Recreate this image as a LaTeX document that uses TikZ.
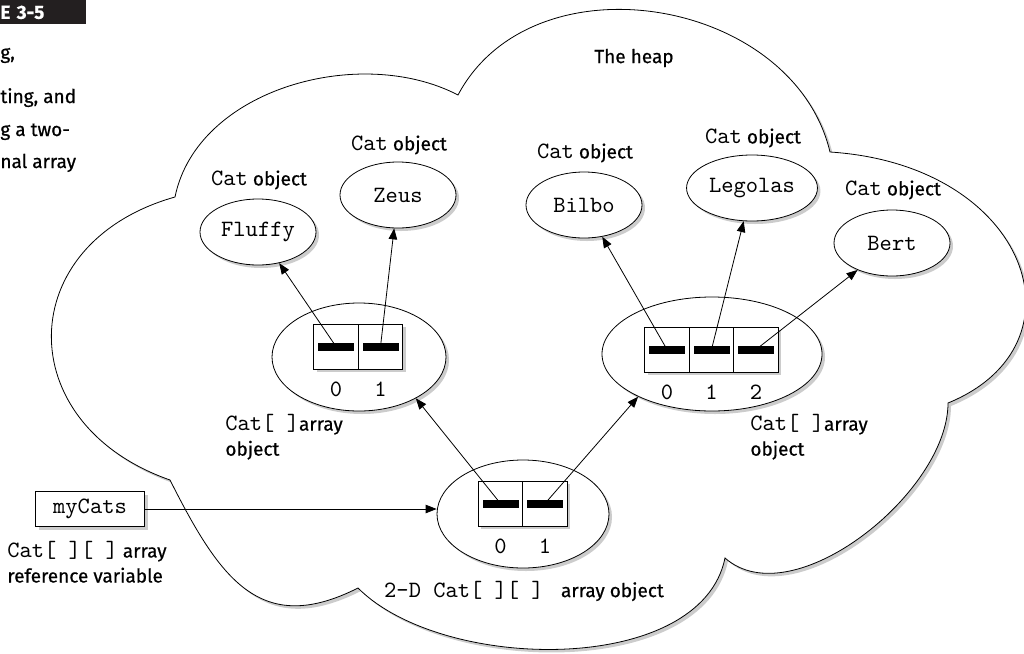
\documentclass[tikz,border=0pt]{standalone}
\usepackage{fontspec}
\setmainfont{Fira Sans}[FakeBold=0.6]
\setmonofont{lmmono10-regular.otf}[Scale=1.23]
\usetikzlibrary{positioning,shapes.geometric,shadows,arrows.meta}
\newcommand{\java}[1]{{\ttfamily #1}}
\newcommand{\figsize}{\fontsize{19}{25}\selectfont}
\definecolor{shadowgray}{gray}{0.8}
\definecolor{figbar}{HTML}{231F20}
\tikzset{
  shadowed/.style={drop shadow={shadow xshift=3pt, shadow yshift=-3pt, fill=shadowgray, opacity=1}},
  lbl/.style={inner sep=2pt},
  catobj/.style={draw, ellipse, fill=white, shadowed, minimum width=116pt, minimum height=66pt, font=\figsize\ttfamily},
  arrobj/.style={draw, ellipse, fill=white, shadowed},
  cell/.style={draw, fill=white, shadowed, minimum width=44.5pt, minimum height=45pt, inner sep=0pt, outer sep=0pt,
    path picture={\fill[black] (path picture bounding box.center) +(-18pt,-4pt) rectangle +(18pt,4pt);}},
  idx/.style={font=\figsize\ttfamily, inner sep=1pt},
  ptr/.style={->, line width=0.8pt}
}

\begin{document}
\begin{tikzpicture}[x=1pt, y=-1pt, line width=0.8pt, >={Triangle[length=11pt,width=8.5pt]}, font=\figsize]
  \useasboundingbox (0,0) rectangle (1024,653);

  % the heap
  \path[draw, fill=white, shadowed] (175,197) .. controls (197,89) and (360,44) .. (458,95)
    .. controls (533,-46) and (793,-3) .. (830,152)
    .. controls (1030,165) and (1090,345) .. (948,403)
    .. controls (948,493) and (792,617) .. (725,558)
    .. controls (701,676) and (443,673) .. (358,588)
    .. controls (260,637.5) and (219.5,578) .. (170,480)
    .. controls (10,424) and (12,243) .. (175,197) -- cycle;
  \node[lbl] (heap) at (634,58) {The heap};

  \node[fill=figbar, text=white, anchor=north west, inner xsep=0pt, text width=86pt, align=left,
    minimum height=24pt, font=\bfseries\fontsize{19}{22}\selectfont] (fignum) at (0,0) {E 3-5};
  \foreach \txt/\yy [count=\i] in {{g,}/59, {ting, and}/103, {g a two-}/136, {nal array}/168}
    \node[lbl, anchor=base west, inner xsep=0pt] (cap\i) at (0,\yy) {\txt};

  \node[catobj] (fluffy) at (258,232) {Fluffy};
  \node[catobj] (zeus) at (398,195) {Zeus};
  \node[catobj] (bilbo) at (584,205) {Bilbo};
  \node[catobj] (legolas) at (752,188) {Legolas};
  \node[catobj] (bert) at (892,243) {Bert};

  \node[lbl] (fluffy-lbl) at (259,180) {\java{Cat} object};
  \node[lbl] (zeus-lbl) at (399,145) {\java{Cat} object};
  \node[lbl] (bilbo-lbl) at (585,153) {\java{Cat} object};
  \node[lbl] (legolas-lbl) at (753,138) {\java{Cat} object};
  \node[lbl] (bert-lbl) at (893,190) {\java{Cat} object};

  \node[arrobj, minimum width=174pt, minimum height=108pt] (left) at (359,357) {};
  \node[cell] (l0) at (336,346.5) {};
  \node[cell, right=0pt of l0] (l1) {};
  \node[idx, below=12pt of l0] (l0-i) {0};
  \node[idx, below=12pt of l1] (l1-i) {1};
  \node[lbl, anchor=west, align=left] (left-lbl) at (223,437) {\java{Cat[ ]}array\\object};

  \node[arrobj, minimum width=220pt, minimum height=114pt] (right) at (712,354) {};
  \node[cell] (r0) at (667,349.5) {};
  \node[cell, right=0pt of r0] (r1) {};
  \node[cell, right=0pt of r1] (r2) {};
  \node[idx, below=12pt of r0] (r0-i) {0};
  \node[idx, below=12pt of r1] (r1-i) {1};
  \node[idx, below=12pt of r2] (r2-i) {2};
  \node[lbl, anchor=west, align=left] (right-lbl) at (748,437) {\java{Cat[ ]}array\\object};

  \node[arrobj, minimum width=172pt, minimum height=108pt] (outer) at (523,514) {};
  \node[cell] (b0) at (500.5,503.5) {};
  \node[cell, right=0pt of b0] (b1) {};
  \node[idx, below=12pt of b0] (b0-i) {0};
  \node[idx, below=12pt of b1] (b1-i) {1};
  \node[lbl] (outer-lbl) at (524,591) {\java{2-D Cat[ ][ ] } array object};

  \node[draw, fill=white, shadowed, minimum width=109pt, minimum height=35pt, font=\figsize\ttfamily] (mycats) at (90,509) {myCats};
  \node[lbl, anchor=west, align=left] (mycats-lbl) at (5,562) {\java{Cat[ ][ ]} array\\reference variable};

  \draw[ptr] (l0.center) -- (fluffy);
  \draw[ptr] (l1.center) -- (zeus);
  \draw[ptr] (r0.center) -- (bilbo);
  \draw[ptr] (r1.center) -- (legolas);
  \draw[ptr] (r2.center) -- (bert);
  \draw[ptr] (b0.center) -- (left.-36);
  \draw[ptr] (b1.center) -- (right.-150);
  \draw[ptr] (mycats.east) -- (mycats.east -| outer.west);
\end{tikzpicture}
\end{document}
